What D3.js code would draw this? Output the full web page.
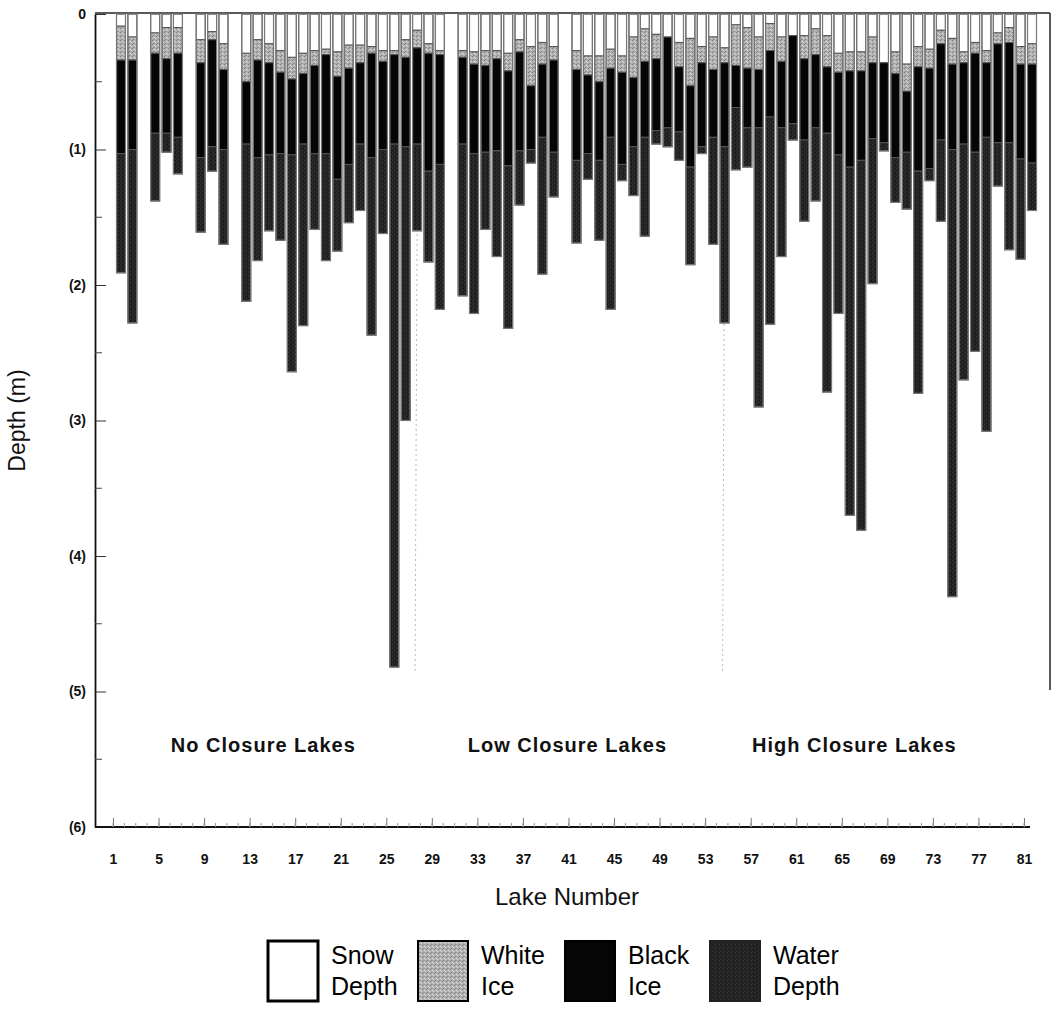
<!DOCTYPE html>
<html>
<head>
<meta charset="utf-8">
<title>Lake ice and water depth</title>
<script src="https://d3js.org/d3.v7.min.js"></script>
<style>
  body { margin: 0; background: #fff; }
  text { font-family: Arial, "Liberation Sans", Helvetica, sans-serif; }
</style>
</head>
<body>
<script>
// lakes that were sampled (3, 7, 11, 30 and 40 have no bar)
var lakes = [1,2,4,5,6,8,9,10,12,13,14,15,16,17,18,19,20,21,22,23,24,25,26,27,28,29,
             31,32,33,34,35,36,37,38,39,41,42,43,44,45,46,47,48,49,50,51,52,53,54,55,56,
             57,58,59,60,61,62,63,64,65,66,67,68,69,70,71,72,73,74,75,76,77,78,79,80,81];
// layer thicknesses in metres, top to bottom
var snowDepth = [0.09,0.17,0.14,0.10,0.10,0.19,0.13,0.22,0.29,0.19,0.22,0.27,0.32,0.29,0.27,0.26,0.28,0.23,0.23,0.24,0.27,0.27,0.19,0.12,0.22,0.27,
                 0.27,0.28,0.27,0.27,0.29,0.19,0.24,0.21,0.24,0.27,0.31,0.31,0.26,0.31,0.17,0.11,0.15,0.17,0.21,0.18,0.24,0.17,0.25,0.08,0.10,
                 0.17,0.07,0.17,0.16,0.16,0.11,0.16,0.29,0.28,0.28,0.17,0.36,0.28,0.37,0.24,0.26,0.12,0.18,0.28,0.21,0.27,0.14,0.10,0.24,0.22];
var whiteIce  = [0.25,0.17,0.15,0.23,0.19,0.17,0.06,0.19,0.21,0.15,0.14,0.16,0.16,0.15,0.11,0.04,0.18,0.17,0.13,0.05,0.08,0.03,0.13,0.13,0.07,0.03,
                 0.05,0.09,0.11,0.06,0.13,0.09,0.29,0.16,0.10,0.14,0.14,0.19,0.14,0.12,0.30,0.24,0.18,0.00,0.18,0.35,0.12,0.24,0.11,0.30,0.30,
                 0.24,0.20,0.18,0.00,0.17,0.19,0.23,0.14,0.14,0.14,0.19,0.00,0.16,0.20,0.15,0.14,0.10,0.19,0.08,0.08,0.09,0.08,0.11,0.13,0.15];
var blackIce  = [0.69,0.66,0.59,0.55,0.62,0.70,0.79,0.59,0.46,0.72,0.68,0.60,0.56,0.52,0.65,0.73,0.76,0.71,0.60,0.77,0.65,0.66,0.66,0.71,0.87,0.81,
                 0.64,0.66,0.64,0.68,0.70,0.73,0.47,0.54,0.68,0.67,0.58,0.58,0.51,0.68,0.51,0.56,0.53,0.67,0.48,0.60,0.62,0.50,0.62,0.31,0.44,
                 0.43,0.49,0.49,0.65,0.60,0.54,0.49,0.61,0.71,0.66,0.56,0.59,0.62,0.45,0.77,0.74,0.71,0.63,0.60,0.73,0.55,0.73,0.74,0.70,0.73];
var waterDepth = [0.88,1.28,0.50,0.14,0.27,0.55,0.18,0.70,1.16,0.76,0.56,0.64,1.60,1.34,0.56,0.79,0.53,0.43,0.49,1.31,0.62,3.86,2.02,0.64,0.67,1.07,
                  1.12,1.18,0.57,0.78,1.20,0.40,0.10,1.01,0.33,0.61,0.19,0.59,1.27,0.12,0.36,0.73,0.10,0.14,0.21,0.72,0.05,0.79,1.30,0.46,0.29,
                  2.06,1.53,0.95,0.12,0.60,0.54,1.91,1.17,2.57,2.73,1.07,0.06,0.33,0.42,1.64,0.09,0.60,3.30,1.74,1.47,2.17,0.32,0.79,0.74,0.35];

var depthTicks = [0,1,2,3,4,5,6];
var lakeTicks = d3.range(1, 82, 4);
var groupNames = ["No Closure Lakes", "Low Closure Lakes", "High Closure Lakes"];
var groupCentres = [13.5, 40.2, 65.4];
var groupDividers = [27, 54];
var layerKeys = ["snow", "white", "black", "water"];
var legendLines = [["Snow","Depth"], ["White","Ice"], ["Black","Ice"], ["Water","Depth"]];

var width = 1062, height = 1017;
var barWidth = 9;

var svg = d3.select("body").append("svg")
    .attr("width", width)
    .attr("height", height);

// textures for the two stippled layers
var defs = svg.append("defs");
var wp = defs.append("pattern").attr("id", "whiteice")
    .attr("width", 4).attr("height", 4).attr("patternUnits", "userSpaceOnUse");
wp.append("rect").attr("width", 4).attr("height", 4).attr("fill", "#b2b2b2");
[[0,0,"#7c7c7c"],[2,1,"#dedede"],[1,3,"#8a8a8a"],[3,2,"#d0d0d0"],[2,3,"#9c9c9c"]].forEach(function(p){
  wp.append("rect").attr("x", p[0]).attr("y", p[1]).attr("width", 1).attr("height", 1).attr("fill", p[2]);
});
var wa = defs.append("pattern").attr("id", "water")
    .attr("width", 4).attr("height", 4).attr("patternUnits", "userSpaceOnUse");
wa.append("rect").attr("width", 4).attr("height", 4).attr("fill", "#222222");
[[0,0,"#3a3a3a"],[2,2,"#343434"],[3,0,"#131313"],[1,3,"#2e2e2e"]].forEach(function(p){
  wa.append("rect").attr("x", p[0]).attr("y", p[1]).attr("width", 1).attr("height", 1).attr("fill", p[2]);
});

var fills = { snow: "#ffffff", white: "url(#whiteice)", black: "#050505", water: "url(#water)" };

var x = d3.scaleLinear().domain([1, 81]).range([121, 1032]);
var y = d3.scaleLinear().domain([0, 6]).range([14, 827]);

// faint dotted dividers between the closure groups
svg.selectAll("line.divider")
    .data(groupDividers)
    .join("line")
    .attr("class", "divider")
    .attr("x1", function(d){ return x(d) + 1; })
    .attr("x2", function(d){ return x(d) - 2; })
    .attr("y1", y(0))
    .attr("y2", y(4.85))
    .attr("stroke", "#b8b8b8")
    .attr("stroke-dasharray", "2,3");

// frame: top line and right edge
svg.append("line").attr("x1", 95).attr("x2", 1050).attr("y1", 13).attr("y2", 13)
    .attr("stroke", "#222").attr("stroke-width", 1.5);
svg.append("line").attr("x1", 1050).attr("x2", 1050).attr("y1", 13).attr("y2", 690)
    .attr("stroke", "#222").attr("stroke-width", 1.5);

// stacked bars hanging down from the surface
var rows = lakes.map(function(n, i){
  return { lake: n, snow: snowDepth[i], white: whiteIce[i], black: blackIce[i], water: waterDepth[i] };
});
var series = d3.stack().keys(layerKeys)(rows);

svg.append("g").selectAll("g")
    .data(series)
    .join("g")
    .attr("fill", function(d){ return fills[d.key]; })
    .selectAll("rect")
    .data(function(d){ return d; })
    .join("rect")
    .attr("x", function(d){ return x(d.data.lake) - barWidth / 2; })
    .attr("y", function(d){ return y(d[0]); })
    .attr("width", barWidth)
    .attr("height", function(d){ return y(d[1]) - y(d[0]); })
    .attr("stroke", "#555")
    .attr("stroke-width", 1);

// outline of each whole bar
svg.append("g").selectAll("rect")
    .data(rows)
    .join("rect")
    .attr("x", function(d){ return x(d.lake) - barWidth / 2; })
    .attr("y", y(0))
    .attr("width", barWidth)
    .attr("height", function(d){ return y(d.snow + d.white + d.black + d.water) - y(0); })
    .attr("fill", "none")
    .attr("stroke", "#777")
    .attr("stroke-width", 1.2);

// y axis
var yAxis = d3.axisLeft(y)
    .tickValues(depthTicks)
    .tickSizeInner(-11)
    .tickSizeOuter(0)
    .tickPadding(9)
    .tickFormat(function(d){ return d === 0 ? "0" : "(" + d + ")"; });
var gy = svg.append("g").attr("transform", "translate(95,0)").call(yAxis);
gy.select(".domain").attr("stroke", "#111").attr("stroke-width", 1.8);
gy.selectAll(".tick line").attr("stroke", "#333");
gy.selectAll("text").attr("font-size", 14).attr("font-weight", "bold").attr("fill", "#111");
gy.selectAll(".minor")
    .data(d3.range(0.5, 6, 1))
    .join("line")
    .attr("class", "minor")
    .attr("x1", 0).attr("x2", 7)
    .attr("y1", function(d){ return y(d); })
    .attr("y2", function(d){ return y(d); })
    .attr("stroke", "#444");

// x axis (the printed labels sit a little left of the bars)
svg.append("line").attr("x1", 95).attr("x2", 1030).attr("y1", y(6)).attr("y2", y(6))
    .attr("stroke", "#111").attr("stroke-width", 1.8);
var xAxis = d3.axisBottom(x)
    .tickValues(lakeTicks)
    .tickSizeInner(-9)
    .tickSizeOuter(0)
    .tickPadding(27)
    .tickFormat(d3.format("d"));
var gx = svg.append("g").attr("transform", "translate(-8," + y(6) + ")").call(xAxis);
gx.select(".domain").remove();
gx.selectAll(".tick line").attr("stroke", "#777");
gx.selectAll("text").attr("font-size", 14).attr("font-weight", "bold").attr("fill", "#111");
gx.selectAll(".minor")
    .data(d3.range(1, 82))
    .join("line")
    .attr("class", "minor")
    .attr("x1", function(d){ return x(d); })
    .attr("x2", function(d){ return x(d); })
    .attr("y1", 0).attr("y2", -4)
    .attr("stroke", "#999");

// axis titles
svg.append("text")
    .attr("transform", "translate(25," + y(3) + ") rotate(-90)")
    .attr("text-anchor", "middle")
    .attr("font-size", 23)
    .attr("fill", "#111")
    .text("Depth (m)");
svg.append("text")
    .attr("x", 567).attr("y", 905)
    .attr("text-anchor", "middle")
    .attr("font-size", 24)
    .attr("fill", "#111")
    .text("Lake Number");

// closure group labels
svg.selectAll("text.group")
    .data(groupNames)
    .join("text")
    .attr("class", "group")
    .attr("x", function(d, i){ return x(groupCentres[i]); })
    .attr("y", 752)
    .attr("text-anchor", "middle")
    .attr("font-size", 20)
    .attr("font-weight", "bold")
    .attr("letter-spacing", 1)
    .attr("fill", "#111")
    .text(function(d){ return d; });

// legend
var legendX = [268, 418, 565, 710];
var legend = svg.append("g").selectAll("g")
    .data(layerKeys)
    .join("g")
    .attr("transform", function(d, i){ return "translate(" + legendX[i] + ",941)"; });
legend.append("rect")
    .attr("width", 50).attr("height", 60)
    .attr("fill", function(d){ return fills[d]; })
    .attr("stroke", function(d){ return d === "water" ? "#222" : "#000"; })
    .attr("stroke-width", function(d){ return d === "snow" ? 3 : 2; });
legend.append("text")
    .attr("x", 63).attr("y", 23)
    .attr("font-size", 25)
    .attr("fill", "#000")
    .text(function(d, i){ return legendLines[i][0]; });
legend.append("text")
    .attr("x", 63).attr("y", 54)
    .attr("font-size", 25)
    .attr("fill", "#000")
    .text(function(d, i){ return legendLines[i][1]; });
</script>
</body>
</html>
